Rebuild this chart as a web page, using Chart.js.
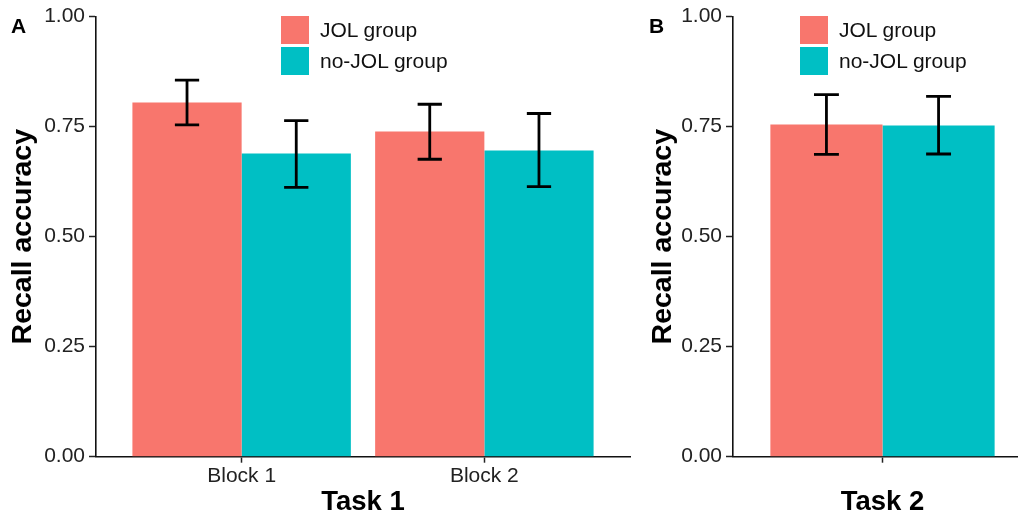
<!DOCTYPE html>
<html lang="en">
<head>
    <meta charset="UTF-8">
    <title>Recall accuracy</title>
    <script src="https://cdn.jsdelivr.net/npm/chart.js"></script>
    <style>
        body { margin: 0; width: 1018px; height: 516px; overflow: hidden; background: #fff; font-family: "Liberation Sans", Arial, sans-serif; position: relative; }
        .panel { position: absolute; top: 0; height: 516px; }
        .tag { position: absolute; top: 14px; font-size: 21px; font-weight: bold; color: #000; }
        .legend { position: absolute; top: 14px; }
        .legend .row { display: flex; align-items: center; height: 31.5px; }
        .legend .sw { width: 28px; height: 28px; margin-right: 11px; }
        .legend span { font-size: 21px; color: #111; }
    </style>
</head>
<body>

    <div class="panel" style="left:0; width:640px;"><canvas id="chartA"></canvas></div>
    <div class="panel" style="left:640px; width:400px;"><canvas id="chartB"></canvas></div>

    <div class="tag" style="left:11px;">A</div>
    <div class="tag" style="left:649px;">B</div>

    <div class="legend" id="legendA" style="left:281px;"></div>
    <div class="legend" id="legendB" style="left:800px;"></div>

    <script>
        // data
        const groups = ['JOL group', 'no-JOL group'];
        const colors = ['#F8766D', '#00BFC4'];

        // Task 1 (panel A)
        const blocks = ['Block 1', 'Block 2'];
        const jolTask1 = [0.805, 0.739];
        const jolTask1Lo = [0.754, 0.676];
        const jolTask1Hi = [0.856, 0.801];
        const noJolTask1 = [0.689, 0.696];
        const noJolTask1Lo = [0.612, 0.614];
        const noJolTask1Hi = [0.764, 0.780];

        // Task 2 (panel B)
        const task2 = [''];
        const jolTask2 = [0.755];
        const jolTask2Lo = [0.687];
        const jolTask2Hi = [0.823];
        const noJolTask2 = [0.753];
        const noJolTask2Lo = [0.688];
        const noJolTask2Hi = [0.819];

        const yTicks = [0, 0.25, 0.5, 0.75, 1];

        const FONT = '"Liberation Sans", Arial, sans-serif';

        // draws the error bars from each bar element, through the chart scales
        const errorBars = {
            id: 'errorBars',
            afterDatasetsDraw(chart) {
                const ctx = chart.ctx;
                const xs = chart.scales.x, ys = chart.scales.y;
                const cap = Math.abs(xs.getPixelForValue(1.05) - xs.getPixelForValue(1));
                ctx.save();
                ctx.strokeStyle = '#000';
                ctx.lineWidth = 2.8;
                chart.data.datasets.forEach((ds, i) => {
                    chart.getDatasetMeta(i).data.forEach((bar, j) => {
                        const top = ys.getPixelForValue(ds.hi[j]);
                        const bot = ys.getPixelForValue(ds.lo[j]);
                        ctx.beginPath();
                        ctx.moveTo(bar.x, top); ctx.lineTo(bar.x, bot);
                        ctx.moveTo(bar.x - cap, top); ctx.lineTo(bar.x + cap, top);
                        ctx.moveTo(bar.x - cap, bot); ctx.lineTo(bar.x + cap, bot);
                        ctx.stroke();
                    });
                });
                ctx.restore();
            }
        };

        function toPoints(vals) {
            return vals.map((v, i) => ({ x: i + 1, y: v }));
        }

        function makeChart(id, labels, series, xMin, xMax, xTitle, yWidth, padRight, catPct) {
            return new Chart(document.getElementById(id), {
                type: 'bar',
                data: {
                    datasets: series.map((s, i) => ({
                        label: groups[i],
                        data: toPoints(s.values),
                        lo: s.lo,
                        hi: s.hi,
                        backgroundColor: colors[i],
                        borderWidth: 0,
                        categoryPercentage: catPct,
                        barPercentage: 1.0
                    }))
                },
                options: {
                    responsive: true,
                    maintainAspectRatio: false,
                    animation: false,
                    layout: { padding: { top: 16.7, right: padRight, left: 0, bottom: 0 } },
                    plugins: { legend: { display: false }, tooltip: { enabled: false } },
                    scales: {
                        x: {
                            type: 'linear',
                            min: xMin,
                            max: xMax,
                            offset: false,
                            afterBuildTicks: (scale) => { scale.ticks = labels.map((_, i) => ({ value: i + 1 })); },
                            afterFit: (scale) => { scale.height = 59.3; },
                            ticks: {
                                callback: (v) => labels[Math.round(v) - 1] ?? '',
                                color: '#222',
                                font: { family: FONT, size: 21 },
                                padding: 1,
                                maxRotation: 0
                            },
                            grid: { display: true, offset: false, drawOnChartArea: false, drawTicks: true, tickLength: 6, tickColor: '#222', tickWidth: 1.5 },
                            border: { display: true, color: '#111', width: 1.6 },
                            title: {
                                display: true,
                                text: xTitle,
                                color: '#000',
                                font: { family: FONT, size: 27.5, weight: 'bold', lineHeight: 1.0 },
                                padding: { top: 0, bottom: 0 }
                            }
                        },
                        y: {
                            min: 0,
                            max: 1,
                            afterBuildTicks: (scale) => { scale.ticks = yTicks.map(v => ({ value: v })); },
                            afterFit: (scale) => { scale.width = yWidth; },
                            ticks: {
                                callback: (v) => v.toFixed(2),
                                color: '#222',
                                font: { family: FONT, size: 21 },
                                padding: 4
                            },
                            grid: { display: true, drawOnChartArea: false, drawTicks: true, tickLength: 7, tickColor: '#222', tickWidth: 1.5 },
                            border: { display: true, color: '#111', width: 1.6 },
                            title: {
                                display: true,
                                text: 'Recall accuracy',
                                color: '#000',
                                font: { family: FONT, size: 28.5, weight: 'bold', lineHeight: 1.2 },
                                padding: { top: 6, bottom: 0 }
                            }
                        }
                    }
                },
                plugins: [errorBars]
            });
        }

        makeChart('chartA', blocks, [
            { values: jolTask1, lo: jolTask1Lo, hi: jolTask1Hi },
            { values: noJolTask1, lo: noJolTask1Lo, hi: noJolTask1Hi }
        ], 0.4, 2.6, 'Task 1', 96, 10, 0.9);

        // one category: the ruler spans the whole axis, so scale the group to 0.9 of a unit
        makeChart('chartB', task2, [
            { values: jolTask2, lo: jolTask2Lo, hi: jolTask2Hi },
            { values: noJolTask2, lo: noJolTask2Lo, hi: noJolTask2Hi }
        ], 0.4, 1.6, 'Task 2', 93, 8, 0.9 / 1.2);

        // legends
        ['legendA', 'legendB'].forEach(id => {
            const box = document.getElementById(id);
            groups.forEach((g, i) => {
                const row = document.createElement('div');
                row.className = 'row';
                row.innerHTML = `<div class="sw" style="background:${colors[i]}"></div><span>${g}</span>`;
                box.appendChild(row);
            });
        });
    </script>

</body>
</html>
